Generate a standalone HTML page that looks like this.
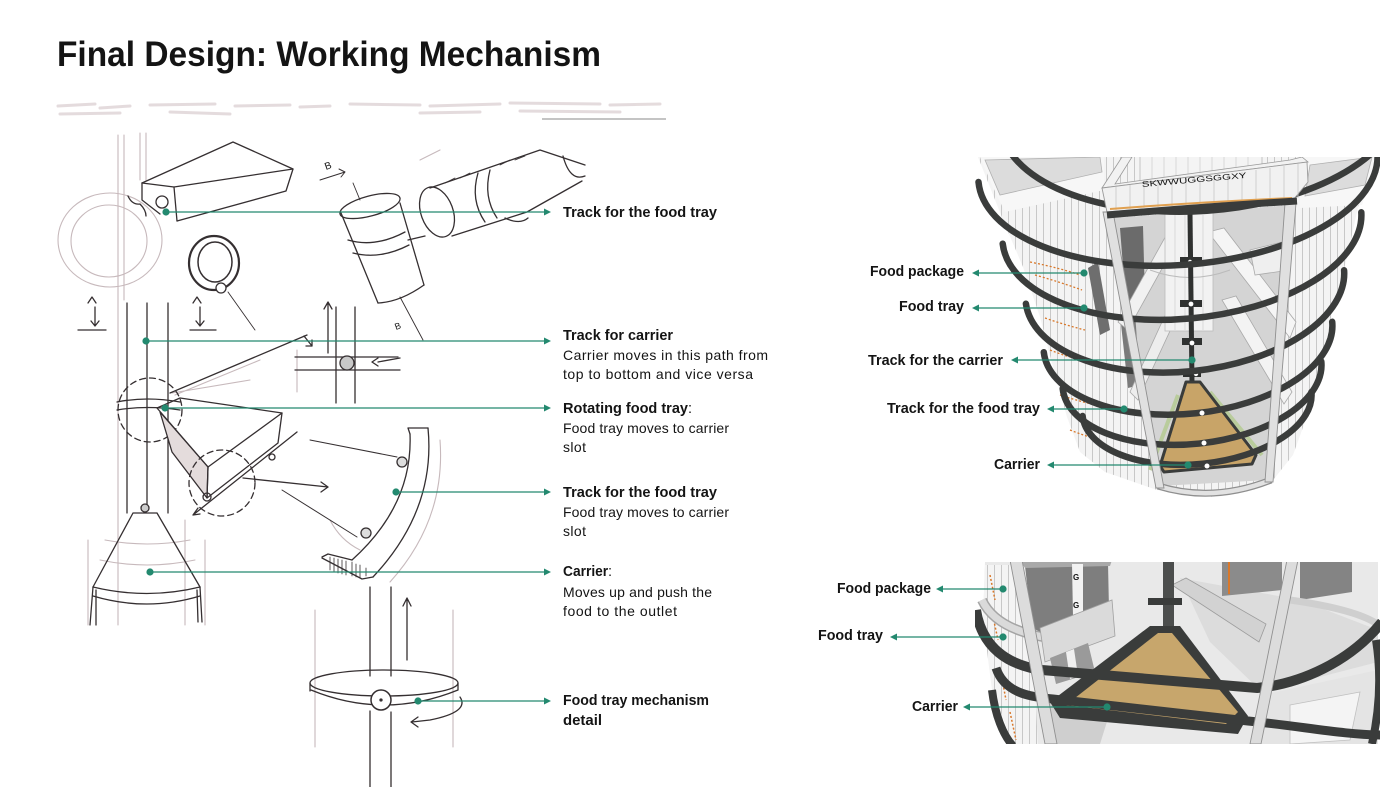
<!DOCTYPE html>
<html><head><meta charset="utf-8">
<style>
html,body{margin:0;padding:0;background:#fff;}
svg{display:block;}
text{font-family:"Liberation Sans",Arial,sans-serif;fill:#141414;}
</style></head><body>
<svg width="1400" height="787" viewBox="0 0 1400 787" xmlns="http://www.w3.org/2000/svg">
<defs>
<pattern id="vs" width="7" height="20" patternUnits="userSpaceOnUse">
<rect width="7" height="20" fill="#f4f4f4"/>
<line x1="0.5" y1="0" x2="0.5" y2="20" stroke="#c4c4c4" stroke-width="0.9"/>
</pattern>
<clipPath id="ct"><rect x="975" y="157" width="405" height="345"/></clipPath>
<clipPath id="cb"><rect x="975" y="562" width="405" height="182"/></clipPath>
</defs>
<rect width="1400" height="787" fill="#fff"/>

<!-- Title -->
<text x="57" y="66" font-size="35" font-weight="bold" textLength="544" lengthAdjust="spacingAndGlyphs" fill="#1a1a1a">Final Design: Working Mechanism</text>

<!-- scanned faint text at top of sketch -->
<g opacity="0.3" stroke="#a88a90" stroke-width="3" stroke-linecap="round" fill="none">
<path d="M58,106 L95,104 M100,108 L130,106 M150,105 L215,104 M235,106 L290,105 M300,107 L330,106 M350,104 L420,105 M430,106 L500,104 M510,103 L600,104 M610,105 L660,104"/>
<path d="M60,114 L120,113 M170,112 L230,114 M420,113 L480,112 M520,111 L620,112"/>
</g>
<line x1="542" y1="119" x2="666" y2="119" stroke="#8a8a8a" stroke-width="1"/>

<!-- ============ SKETCH (faint) ============ -->
<g fill="none" stroke="#c7b9bc" stroke-width="1.1" stroke-linecap="round">
<path d="M118,135 V300 M124,135 V300 M140,133 V180 M146,133 V180"/>
<ellipse cx="110" cy="240" rx="52" ry="47"/>
<ellipse cx="109" cy="241" rx="38" ry="36"/>
<path d="M118,300 V625 M185,520 V625 M88,540 V625 M205,540 V625"/>
<path d="M172,393 L250,380 M175,395 L260,360"/>
<path d="M440,440 Q446,520 390,582"/>
<path d="M315,610 V747 M453,610 V747 M297,350 V392"/>
<path d="M100,560 Q147,570 195,560 M105,540 Q147,548 190,540"/>
<path d="M420,160 L440,150 M330,520 Q340,540 360,550"/>
</g>

<!-- ============ SKETCH (dark) ============ -->
<g fill="none" stroke="#352f31" stroke-width="1.3" stroke-linecap="round" stroke-linejoin="round">
<path d="M128,196 Q132,205 140,204 Q146,210 146,216"/>
<path d="M142,183 L233,142 L293,169 L286,191 L177,221"/>
<path d="M142,183 L174,187 L293,169"/>
<path d="M174,187 L177,221"/>
<path d="M142,183 L142,200 L160,214"/>
<circle cx="162" cy="202" r="6"/>
<ellipse cx="214" cy="263" rx="25" ry="27" stroke-width="2.2"/>
<ellipse cx="215" cy="262" rx="17" ry="20" stroke-width="1.5"/>
<circle cx="221" cy="288" r="5" fill="#fff"/>
<path d="M228,292 L255,330" stroke-width="0.9"/>
<ellipse cx="370" cy="206" rx="31" ry="10" transform="rotate(-15 370 206)"/>
<path d="M341,213 L378,303 M400,203 L424,285"/>
<path d="M378,303 Q400,302 424,285"/>
<path d="M348,240 Q375,248 405,232 M353,253 Q380,260 409,245"/>
<path d="M353,183 L360,200 M400,297 L423,340" stroke-width="0.9"/>
<path d="M320,180 L345,172 M339,169 L345,172 L341,177" stroke-width="1"/>
<ellipse cx="437" cy="212" rx="16" ry="26" transform="rotate(-20 437 212)"/>
<path d="M430,188 L540,150 L585,165"/>
<path d="M563,156 Q570,182 585,176"/>
<path d="M452,236 L527,212 L582,181"/>
<path d="M478,173 Q470,200 485,222 M490,170 Q483,197 497,218"/>
<path d="M445,183 L455,178 M460,178 L470,173 M500,165 L510,160 M515,160 L525,156" stroke-width="0.8"/>
<path d="M408,240 L425,236 M505,218 Q520,225 528,218"/>
<path d="M88,303 L92,297 L96,303 M95,307 L95,325 M91,321 L95,326 L99,321 M78,330 L106,330"/>
<path d="M193,303 L197,297 L201,303 M200,307 L200,325 M196,321 L200,326 L204,321 M190,330 L216,330"/>
<path d="M127,303 V513 M147,303 V505 M168,303 V513"/>
<path d="M117,402 Q147,396 180,402 M117,410 Q147,405 180,410"/>
<circle cx="150" cy="410" r="32" stroke-dasharray="6 4"/>
<path d="M170,393 L307,335 M304,336 L312,346 M306,346 L312,346 L312,340"/>
<polygon points="160,412 208,467 207,498 172,452" fill="#e4dcdc"/>
<path d="M157,408 L180,398 L282,413 L208,467 Z"/>
<path d="M282,413 L278,443 L207,498 L208,467"/>
<circle cx="222" cy="483" r="33" stroke-dasharray="6 4"/>
<circle cx="207" cy="497" r="4"/>
<circle cx="272" cy="457" r="3"/>
<path d="M193,515 L297,432 M193,515 L198,508 M193,515 L200,514"/>
<path d="M243,478 L328,487 M321,482 L328,487 L321,492"/>
<path d="M336,307 V403 M355,307 V403 M295,357 H398 M295,370 H400"/>
<circle cx="347" cy="363" r="7" fill="#c8c8c8"/>
<path d="M328,353 V302 M324,309 L328,302 L332,309"/>
<path d="M378,362 L400,358 M372,362 L378,358 M372,362 L378,366"/>
<path d="M428,428 Q436,510 373,577"/>
<path d="M410,434 Q413,505 352,560"/>
<path d="M410,434 L408,428 L428,428"/>
<path d="M352,560 L328,554 L322,557 M322,558 L362,579 L373,577"/>
<path d="M330,557 V570 M334,558 V572 M338,559 V573 M342,560 V574 M346,561 V575 M352,562 V576 M356,564 V577 M360,565 V578 M366,568 V576" stroke-width="0.8"/>
<circle cx="402" cy="462" r="5" fill="#ddd"/>
<circle cx="366" cy="533" r="5" fill="#ddd"/>
<path d="M310,440 L397,457 M282,490 L357,537" stroke-width="1"/>
<circle cx="145" cy="508" r="4" fill="#ccc"/>
<path d="M133,513 L157,513 M133,513 L93,587 M157,513 L200,587"/>
<path d="M93,587 Q147,600 200,587 M93,596 Q147,612 200,596"/>
<path d="M93,587 L90,625 M200,587 L202,622 M96,590 L96,625 M197,590 L198,622"/>
<path d="M370,587 V676 M370,711 V787 M391,587 V676 M391,712 V787"/>
<path d="M310,683 A74,13 0 0 1 458,683 A74,13 0 0 1 310,683"/>
<path d="M311,690 Q384,720 458,690 M310,683 V691 M458,683 V690"/>
<circle cx="381" cy="700" r="10" fill="#fff" stroke-width="1.5"/>
<circle cx="381" cy="700" r="1" fill="#333"/>
<path d="M407,660 V598 M403,606 L407,598 L411,606"/>
<path d="M460,697 Q470,712 430,720 L412,722 M418,717 L411,722 L418,727"/>
</g>
<text x="326" y="170" font-size="10" fill="#555" transform="rotate(-20 326 170)">B</text>
<text x="396" y="330" font-size="9" fill="#666" transform="rotate(-20 396 330)">B</text>

<!-- ============ TOP RENDER ============ -->
<g clip-path="url(#ct)">
<path d="M978,157 L1003,220 L1023,267 L1040,317 L1053,367 L1067,417 L1080,452 L1105,472 L1157,490 L1213,497 L1270,484 L1293,455 L1310,408 L1323,358 L1333,308 L1347,258 L1358,207 L1378,157 Z" fill="url(#vs)"/>
<polygon points="980,157 1104,157 1104,190 1005,212 992,185" fill="#f7f7f7"/>
<polygon points="1300,157 1378,157 1362,205 1300,208" fill="#f7f7f7"/>
<polygon points="985,160 1100,157 1102,172 1000,195" fill="#dcdcdc" stroke="#b0b0b0" stroke-width="0.8"/>
<polygon points="1310,165 1372,157 1365,185 1305,196" fill="#dcdcdc" stroke="#b0b0b0" stroke-width="0.8"/>
<g stroke="#d9782a" stroke-width="1.3" stroke-dasharray="2 2" fill="none">
<path d="M1030,262 Q1060,268 1080,275 M1035,275 Q1060,282 1082,290 M1045,318 Q1065,325 1085,330 M1050,350 Q1070,358 1090,362 M1060,395 Q1075,400 1095,405 M1070,430 Q1085,436 1100,440"/>
</g>
<polygon points="1088,268 1098,262 1110,330 1100,335" fill="#6e6e6e"/>
<polygon points="1112,218 1292,205 1268,480 1160,486" fill="#d4d4d4"/>
<polygon points="1120,228 1143,226 1145,300 1126,305" fill="#6b6b6b"/>
<polygon points="1120,315 1135,312 1140,385 1128,388" fill="#7a7a7a"/>
<polygon points="1208,232 1224,228 1296,322 1290,338" fill="#f5f5f5" stroke="#a9a9a9" stroke-width="0.8"/>
<polygon points="1222,300 1236,296 1292,392 1284,404" fill="#f3f3f3" stroke="#a9a9a9" stroke-width="0.8"/>
<polygon points="1168,232 1180,236 1128,330 1118,322" fill="#f1f1f1" stroke="#a9a9a9" stroke-width="0.8"/>
<polygon points="1172,300 1182,305 1138,400 1130,392" fill="#ededed" stroke="#a9a9a9" stroke-width="0.8"/>
<polygon points="1250,250 1290,240 1290,270 1255,275" fill="#efefef" stroke="#aaa" stroke-width="0.8"/>
<rect x="1165" y="213" width="48" height="118" fill="#f2f2f2" stroke="#bcbcbc" stroke-width="0.8"/>
<path d="M1175,215 V330 M1185,215 V330 M1203,215 V330" stroke="#d2d2d2" stroke-width="0.8"/>
<path d="M1150,270 Q1190,285 1230,270" stroke="#bbb" fill="none"/>
<line x1="1190" y1="213" x2="1192" y2="383" stroke="#2f3130" stroke-width="5"/>
<g fill="#2f3130"><rect x="1180" y="257" width="22" height="6"/><rect x="1180" y="300" width="22" height="7"/><rect x="1182" y="338" width="20" height="7"/><rect x="1183" y="370" width="18" height="7"/></g>
<g fill="#fff"><circle cx="1190" cy="262" r="2.2"/><circle cx="1191" cy="304" r="2.4"/><circle cx="1192" cy="343" r="2.4"/><circle cx="1196" cy="374" r="2.2"/></g>
<path d="M1178,395 L1150,470" stroke="#b9cc9c" stroke-width="4"/>
<path d="M1210,392 L1262,455" stroke="#b9cc9c" stroke-width="4"/>
<polygon points="1186,382 1200,382 1256,455 1252,464 1164,472 1160,466" fill="#c8a468" stroke="#3a3c3b" stroke-width="3" stroke-linejoin="round"/>
<g fill="none" stroke="#3a3c3b" stroke-width="6.5" stroke-linecap="round">
<path d="M1000.5,126 A200,100 -4 0 0 1399.5,98"/>
<path d="M978.5,182 A200,98 -4 0 0 1377.5,154"/>
<path d="M1002.7,243.7 A180,92 -5 0 0 1361.3,212.3"/>
<path d="M1025.9,303.7 A160,86 -6 0 0 1344.1,270.3"/>
<path d="M1043.8,352.2 A145,77 -6 0 0 1332.2,321.8"/>
<path d="M1062.7,388.6 A130,69 -6 0 0 1321.3,361.4"/>
<path d="M1082.6,416 A115,60 -6 0 0 1311.4,392"/>
</g>
<g fill="#fff"><circle cx="1202" cy="413" r="2.5"/><circle cx="1204" cy="443" r="2.5"/><circle cx="1207" cy="466" r="2.5"/></g>
<path d="M1158,486 Q1213,503 1271,480" stroke="#8f8f8f" stroke-width="7" fill="none"/>
<path d="M1158,486 Q1213,503 1271,480" stroke="#e2e2e2" stroke-width="4.5" fill="none"/>
<polygon points="1103,212 1113,212 1164,488 1156,488" fill="#e0e0e0" stroke="#8f8f8f" stroke-width="0.9"/>
<polygon points="1285,203 1296,203 1273,482 1265,482" fill="#e0e0e0" stroke="#8f8f8f" stroke-width="0.9"/>
<rect x="1140" y="150" width="122" height="36" fill="#f4f4f4" stroke="#b8b8b8" stroke-width="0.8"/>
<path d="M1152,157 V186 M1164,157 V186 M1176,157 V186 M1188,157 V186 M1200,157 V186 M1212,157 V186 M1224,157 V186 M1236,157 V186 M1248,157 V186" stroke="#d0d0d0" stroke-width="0.8"/>
<path d="M1102,188 L1122,157 L1132,157 L1115,184 Q1200,172 1290,160 L1302,157 L1308,162 Z" fill="#f2f2f2" stroke="#9a9a9a" stroke-width="0.8"/>
<path d="M1102,188 Q1200,176 1307,162 L1308,182 L1293,200 Q1200,204 1107,212 Z" fill="#f1f1f1" stroke="#9a9a9a" stroke-width="0.9"/>
<path d="M1116,187 V210 M1130,185 V209 M1144,184 V208 M1158,182 V207 M1172,181 V206 M1186,179 V205 M1200,178 V204 M1214,176 V203 M1228,174 V202 M1242,172 V201 M1256,170 V200 M1270,168 V200 M1284,166 V200 M1298,164 V198" stroke="#c8c8c8" stroke-width="0.8"/>
<text x="1142" y="187" font-size="8" fill="#d06a1a" textLength="105" lengthAdjust="spacingAndGlyphs" transform="rotate(-5 1142 187)">SKWWUGGSGGXY</text>
<path d="M1110,209 Q1200,202 1292,198" stroke="#e0a050" stroke-width="2" fill="none"/>
<path d="M1107,215 Q1200,207 1297,201" stroke="#3a3c3b" stroke-width="7" fill="none"/>
</g>

<!-- ============ BOTTOM RENDER ============ -->
<g clip-path="url(#cb)">
<polygon points="985,562 1378,562 1378,744 1013,744 995,690 983,620" fill="#e9e9e9"/>
<polygon points="985,565 1028,565 1038,744 1013,744 992,690 983,620" fill="url(#vs)"/>
<g stroke="#d9782a" stroke-width="1.5" stroke-dasharray="2 2" fill="none">
<path d="M990,575 L995,600 M992,612 L998,640 M1000,668 L1006,700 M1010,712 L1016,740"/>
</g>
<path d="M982,600 Q995,628 1043,637" stroke="#a5a5a5" stroke-width="10" fill="none"/>
<path d="M982,600 Q995,628 1043,637" stroke="#dadada" stroke-width="7" fill="none"/>
<polygon points="1180,578 1300,600 1378,630 1378,662 1262,692 1210,642" fill="#dcdcdc"/>
<polygon points="1300,562 1352,562 1352,592 1300,600" fill="#848484"/>
<polygon points="1222,562 1282,562 1282,590 1222,596" fill="#8b8b8b"/>
<line x1="1229" y1="562" x2="1229" y2="594" stroke="#d9782a" stroke-width="2"/>
<polygon points="1172,585 1186,578 1266,624 1259,642" fill="#d2d2d2" stroke="#9c9c9c" stroke-width="0.8"/>
<path d="M1290,600 Q1360,610 1380,626" stroke="#cfcfcf" stroke-width="7" fill="none"/>
<polygon points="1262,695 1378,670 1378,744 1255,744" fill="#e4e4e4"/>
<polygon points="1290,705 1360,692 1350,740 1290,744" fill="#f4f4f4" stroke="#c0c0c0" stroke-width="0.8"/>
<polygon points="1025,566 1108,563 1109,610 1043,633 1032,628" fill="#7e7e7e"/>
<polygon points="1020,560 1112,560 1110,566 1025,568" fill="#a9a9a9"/>
<polygon points="1072,564 1083,564 1083,612 1073,617" fill="#f2f2f2"/>
<text x="1073" y="580" font-size="8" fill="#d06a1a" font-weight="bold">G</text>
<text x="1073" y="608" font-size="8" fill="#d06a1a" font-weight="bold">G</text>
<polygon points="1040,628 1112,600 1115,636 1045,662" fill="#dadada" stroke="#a0a0a0" stroke-width="0.8"/>
<polygon points="1050,658 1088,643 1095,672 1056,684" fill="#9a9a9a"/>
<polygon points="1066,652 1074,649 1078,676 1070,679" fill="#f0f0f0"/>
<rect x="1163" y="560" width="11" height="68" fill="#4c4e4d"/>
<rect x="1148" y="598" width="34" height="7" fill="#3a3c3b"/>
<polygon points="1040,700 1110,712 1100,744 1045,744" fill="#cfcfcf"/>
<polygon points="1150,626 1180,626 1248,716 1238,734 1060,718 1050,702" fill="#3a3c3b"/>
<polygon points="1158,633 1172,633 1238,712 1226,724 1066,705" fill="#c7a66c"/>
<g fill="none" stroke="#3a3c3b" stroke-linecap="butt">
<path d="M976,610 C982,648 1008,665 1042,670 L1257,688 C1300,684 1350,662 1382,622" stroke-width="10"/>
<path d="M996,668 C1004,692 1028,697 1053,699 L1248,721 C1300,726 1345,735 1382,735" stroke-width="9"/>
<path d="M992,690 C995,715 1003,735 1013,746" stroke-width="8"/>
<path d="M1376,640 Q1384,690 1372,744" stroke-width="8"/>
</g>
<polygon points="1010,560 1022,560 1057,744 1045,744" fill="#dcdcdc" stroke="#909090" stroke-width="0.9"/>
<polygon points="1287,560 1298,560 1261,744 1250,744" fill="#dcdcdc" stroke="#909090" stroke-width="0.9"/>
</g>

<!-- ============ CONNECTORS ============ -->
<g stroke="#23896f" stroke-width="1.3" fill="none">
<line x1="166" y1="212" x2="545" y2="212"/>
<line x1="146" y1="341" x2="545" y2="341"/>
<line x1="165" y1="408" x2="545" y2="408"/>
<line x1="396" y1="492" x2="545" y2="492"/>
<line x1="150" y1="572" x2="545" y2="572"/>
<line x1="418" y1="701" x2="545" y2="701"/>
<line x1="978" y1="273" x2="1084" y2="273"/>
<line x1="978" y1="308" x2="1084" y2="308"/>
<line x1="1017" y1="360" x2="1192" y2="360"/>
<line x1="1053" y1="409" x2="1124" y2="409"/>
<line x1="1053" y1="465" x2="1188" y2="465"/>
<line x1="942" y1="589" x2="1003" y2="589"/>
<line x1="896" y1="637" x2="1003" y2="637"/>
<line x1="969" y1="707" x2="1107" y2="707"/>
</g>
<g fill="#23896f">
<circle cx="166" cy="212" r="3.6"/><path d="M551,212 L544,208.5 L544,215.5Z"/>
<circle cx="146" cy="341" r="3.6"/><path d="M551,341 L544,337.5 L544,344.5Z"/>
<circle cx="165" cy="408" r="3.6"/><path d="M551,408 L544,404.5 L544,411.5Z"/>
<circle cx="396" cy="492" r="3.6"/><path d="M551,492 L544,488.5 L544,495.5Z"/>
<circle cx="150" cy="572" r="3.6"/><path d="M551,572 L544,568.5 L544,575.5Z"/>
<circle cx="418" cy="701" r="3.6"/><path d="M551,701 L544,697.5 L544,704.5Z"/>
<circle cx="1084" cy="273" r="3.6"/><path d="M972,273 L979,269.5 L979,276.5Z"/>
<circle cx="1084" cy="308" r="3.6"/><path d="M972,308 L979,304.5 L979,311.5Z"/>
<circle cx="1192" cy="360" r="3.6"/><path d="M1011,360 L1018,356.5 L1018,363.5Z"/>
<circle cx="1124" cy="409" r="3.6"/><path d="M1047,409 L1054,405.5 L1054,412.5Z"/>
<circle cx="1188" cy="465" r="3.6"/><path d="M1047,465 L1054,461.5 L1054,468.5Z"/>
<circle cx="1003" cy="589" r="3.6"/><path d="M936,589 L943,585.5 L943,592.5Z"/>
<circle cx="1003" cy="637" r="3.6"/><path d="M890,637 L897,633.5 L897,640.5Z"/>
<circle cx="1107" cy="707" r="3.6"/><path d="M963,707 L970,703.5 L970,710.5Z"/>
</g>

<!-- ============ LABELS LEFT ============ -->
<g font-size="14.5">
<text x="563" y="217" font-weight="bold" textLength="154" lengthAdjust="spacingAndGlyphs">Track for the food tray</text>
<text x="563" y="340" font-weight="bold" textLength="110" lengthAdjust="spacingAndGlyphs">Track for carrier</text>
<text x="563" y="360" font-size="14" textLength="205" lengthAdjust="spacing">Carrier moves in this path from</text>
<text x="563" y="379" font-size="14" textLength="190" lengthAdjust="spacing">top to bottom and vice versa</text>
<text x="563" y="413" textLength="129" lengthAdjust="spacingAndGlyphs"><tspan font-weight="bold">Rotating food tray</tspan>:</text>
<text x="563" y="433" font-size="14" textLength="166" lengthAdjust="spacing">Food tray moves to carrier</text>
<text x="563" y="452" font-size="14" textLength="23" lengthAdjust="spacing">slot</text>
<text x="563" y="497" font-weight="bold" textLength="154" lengthAdjust="spacingAndGlyphs">Track for the food tray</text>
<text x="563" y="517" font-size="14" textLength="166" lengthAdjust="spacing">Food tray moves to carrier</text>
<text x="563" y="536" font-size="14" textLength="23" lengthAdjust="spacing">slot</text>
<text x="563" y="576" textLength="49" lengthAdjust="spacingAndGlyphs"><tspan font-weight="bold">Carrier</tspan>:</text>
<text x="563" y="597" font-size="14" textLength="149" lengthAdjust="spacing">Moves up and push the</text>
<text x="563" y="616" font-size="14" textLength="114" lengthAdjust="spacing">food to the outlet</text>
<text x="563" y="705" font-weight="bold" textLength="146" lengthAdjust="spacingAndGlyphs">Food tray mechanism</text>
<text x="563" y="725" font-weight="bold" textLength="39" lengthAdjust="spacingAndGlyphs">detail</text>
</g>

<!-- ============ LABELS RIGHT ============ -->
<g font-size="14.5" font-weight="bold">
<text x="870" y="276" textLength="94" lengthAdjust="spacingAndGlyphs">Food package</text>
<text x="899" y="311" textLength="65" lengthAdjust="spacingAndGlyphs">Food tray</text>
<text x="868" y="365" textLength="135" lengthAdjust="spacingAndGlyphs">Track for the carrier</text>
<text x="887" y="413" textLength="153" lengthAdjust="spacingAndGlyphs">Track for the food tray</text>
<text x="994" y="469" textLength="46" lengthAdjust="spacingAndGlyphs">Carrier</text>
<text x="837" y="593" textLength="94" lengthAdjust="spacingAndGlyphs">Food package</text>
<text x="818" y="640" textLength="65" lengthAdjust="spacingAndGlyphs">Food tray</text>
<text x="912" y="711" textLength="46" lengthAdjust="spacingAndGlyphs">Carrier</text>
</g>
</svg>
</body></html>
